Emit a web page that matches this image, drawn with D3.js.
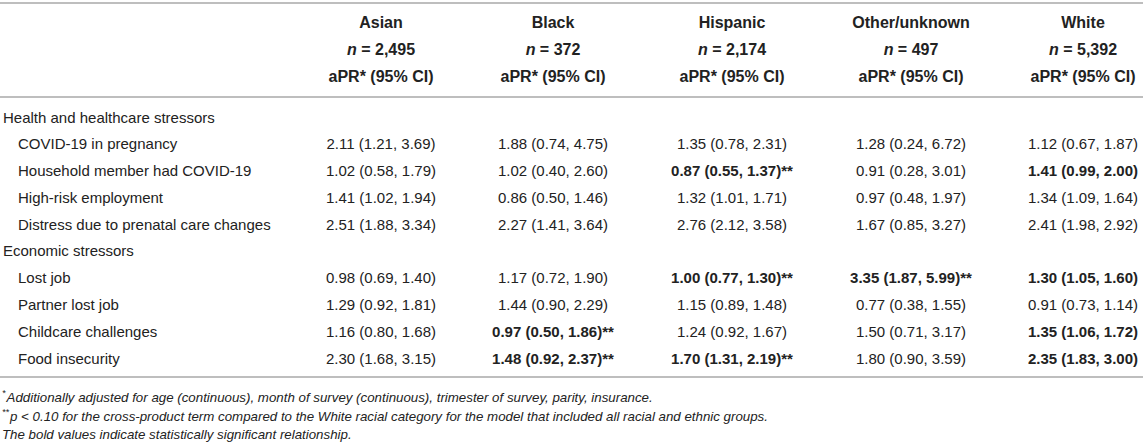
<!DOCTYPE html>
<html>
<head>
<meta charset="utf-8">
<script src="https://cdn.jsdelivr.net/npm/d3@7"></script>
<style>
  body { margin: 0; background: #fff; }
  svg text { font-family: "Liberation Sans", Arial, Helvetica, sans-serif; }
</style>
</head>
<body>
<div id="chart-area"></div>
<script>
// kolumny tabeli i liczebnosci
const races = ["Asian", "Black", "Hispanic", "Other/unknown", "White"];
const nCounts = ["2,495", "372", "2,174", "497", "5,392"];

// grupy i wiersze (stresory)
const healthItems = ["COVID-19 in pregnancy", "Household member had COVID-19", "High-risk employment", "Distress due to prenatal care changes"];
const economicItems = ["Lost job", "Partner lost job", "Childcare challenges", "Food insecurity"];

// aPR, dolny i gorny CI - kolejnosc jak wiersze wyzej
const asianVals = [[2.11, 1.21, 3.69], [1.02, 0.58, 1.79], [1.41, 1.02, 1.94], [2.51, 1.88, 3.34],
                   [0.98, 0.69, 1.40], [1.29, 0.92, 1.81], [1.16, 0.80, 1.68], [2.30, 1.68, 3.15]];
const blackVals = [[1.88, 0.74, 4.75], [1.02, 0.40, 2.60], [0.86, 0.50, 1.46], [2.27, 1.41, 3.64],
                   [1.17, 0.72, 1.90], [1.44, 0.90, 2.29], [0.97, 0.50, 1.86], [1.48, 0.92, 2.37]];
const hispanicVals = [[1.35, 0.78, 2.31], [0.87, 0.55, 1.37], [1.32, 1.01, 1.71], [2.76, 2.12, 3.58],
                      [1.00, 0.77, 1.30], [1.15, 0.89, 1.48], [1.24, 0.92, 1.67], [1.70, 1.31, 2.19]];
const otherVals = [[1.28, 0.24, 6.72], [0.91, 0.28, 3.01], [0.97, 0.48, 1.97], [1.67, 0.85, 3.27],
                   [3.35, 1.87, 5.99], [0.77, 0.38, 1.55], [1.50, 0.71, 3.17], [1.80, 0.90, 3.59]];
const whiteVals = [[1.12, 0.67, 1.87], [1.41, 0.99, 2.00], [1.34, 1.09, 1.64], [2.41, 1.98, 2.92],
                   [1.30, 1.05, 1.60], [0.91, 0.73, 1.14], [1.35, 1.06, 1.72], [2.35, 1.83, 3.00]];

// pogrubione (istotne) i ** (p < 0.10 dla interakcji)
const asianBold = [0, 0, 0, 0, 0, 0, 0, 0];
const blackBold = [0, 0, 0, 0, 0, 0, 1, 1];
const hispanicBold = [0, 1, 0, 0, 1, 0, 0, 1];
const otherBold = [0, 0, 0, 0, 1, 0, 0, 0];
const whiteBold = [0, 1, 0, 0, 1, 0, 1, 1];

const asianStar = [0, 0, 0, 0, 0, 0, 0, 0];
const blackStar = [0, 0, 0, 0, 0, 0, 1, 1];
const hispanicStar = [0, 1, 0, 0, 1, 0, 0, 1];
const otherStar = [0, 0, 0, 0, 1, 0, 0, 0];
const whiteStar = [0, 0, 0, 0, 0, 0, 0, 0];

const footnotes = [
    {sup: "*", text: "Additionally adjusted for age (continuous), month of survey (continuous), trimester of survey, parity, insurance."},
    {sup: "**", text: "p < 0.10 for the cross-product term compared to the White racial category for the model that included all racial and ethnic groups."},
    {sup: "", text: "The bold values indicate statistically significant relationship."}
];

const colVals = [asianVals, blackVals, hispanicVals, otherVals, whiteVals];
const colBold = [asianBold, blackBold, hispanicBold, otherBold, whiteBold];
const colStar = [asianStar, blackStar, hispanicStar, otherStar, whiteStar];

// wiersze tabeli: naglowki grup + pozycje
const rows = [];
rows.push({label: "Health and healthcare stressors", group: true});
healthItems.forEach((d, i) => rows.push({label: d, group: false, idx: i}));
rows.push({label: "Economic stressors", group: true});
economicItems.forEach((d, i) => rows.push({label: d, group: false, idx: i + 4}));

const W = 1143, H = 448;
const svg = d3.select("#chart-area").append("svg")
    .attr("width", W)
    .attr("height", H);

const x = d3.scaleOrdinal()
    .domain(races)
    .range([381, 553, 732, 911, 1083]);

const y = d3.scalePoint()
    .domain(d3.range(rows.length))
    .range([117, 358]);

const hy = d3.scalePoint()
    .domain(["race", "n", "apr"])
    .range([22, 76]);

const fy = d3.scalePoint()
    .domain(d3.range(footnotes.length))
    .range([397, 434]);

const textCol = "#222";
const fmt = d3.format(".2f");

// linie poziome
svg.selectAll("line.rule")
    .data([3, 97, 377])
    .enter()
    .append("line")
    .attr("class", "rule")
    .attr("x1", 0)
    .attr("x2", W)
    .attr("y1", d => d)
    .attr("y2", d => d)
    .attr("stroke", "#a8a8a8")
    .attr("stroke-width", 1.6);

// naglowek
const head = svg.selectAll("g.head")
    .data(races)
    .enter()
    .append("g")
    .attr("class", "head")
    .attr("transform", d => `translate(${x(d)},0)`);

head.append("text")
    .attr("y", hy("race"))
    .attr("text-anchor", "middle")
    .attr("dominant-baseline", "central")
    .attr("font-size", 16)
    .attr("font-weight", "bold")
    .attr("fill", textCol)
    .text(d => d);

const nText = head.append("text")
    .attr("y", hy("n"))
    .attr("text-anchor", "middle")
    .attr("dominant-baseline", "central")
    .attr("font-size", 16)
    .attr("font-weight", "bold")
    .attr("fill", textCol);
nText.append("tspan").attr("font-style", "italic").text("n");
nText.append("tspan").text((d, i) => " = " + nCounts[i]);

head.append("text")
    .attr("y", hy("apr"))
    .attr("text-anchor", "middle")
    .attr("dominant-baseline", "central")
    .attr("font-size", 16)
    .attr("font-weight", "bold")
    .attr("fill", textCol)
    .text("aPR* (95% CI)");

// etykiety wierszy
svg.selectAll("text.rowlab")
    .data(rows)
    .enter()
    .append("text")
    .attr("class", "rowlab")
    .attr("x", d => d.group ? 3 : 18)
    .attr("y", (d, i) => y(i))
    .attr("dominant-baseline", "central")
    .attr("font-size", 15)
    .attr("fill", textCol)
    .text(d => d.label);

// komorki z wartosciami
races.forEach((race, c) => {
    svg.selectAll("text.cell-" + c)
        .data(rows.map((r, i) => ({r, i})).filter(d => !d.r.group))
        .enter()
        .append("text")
        .attr("class", "cell-" + c)
        .attr("x", x(race))
        .attr("y", d => y(d.i))
        .attr("text-anchor", "middle")
        .attr("dominant-baseline", "central")
        .attr("font-size", 15)
        .attr("font-weight", d => colBold[c][d.r.idx] ? "bold" : "normal")
        .attr("fill", textCol)
        .text(d => {
            const v = colVals[c][d.r.idx];
            return `${fmt(v[0])} (${fmt(v[1])}, ${fmt(v[2])})` + (colStar[c][d.r.idx] ? "**" : "");
        });
});

// przypisy
const fn = svg.selectAll("text.fn")
    .data(footnotes)
    .enter()
    .append("text")
    .attr("class", "fn")
    .attr("x", 2)
    .attr("y", (d, i) => fy(i))
    .attr("dominant-baseline", "central")
    .attr("font-size", 13.3)
    .attr("font-style", "italic")
    .attr("fill", textCol);
fn.append("tspan")
    .attr("font-size", 9)
    .attr("dy", -4)
    .text(d => d.sup);
fn.append("tspan")
    .attr("dy", d => d.sup ? 4 : 0)
    .attr("dx", d => d.sup ? 1 : 0)
    .text(d => d.text);
</script>
</body>
</html>
